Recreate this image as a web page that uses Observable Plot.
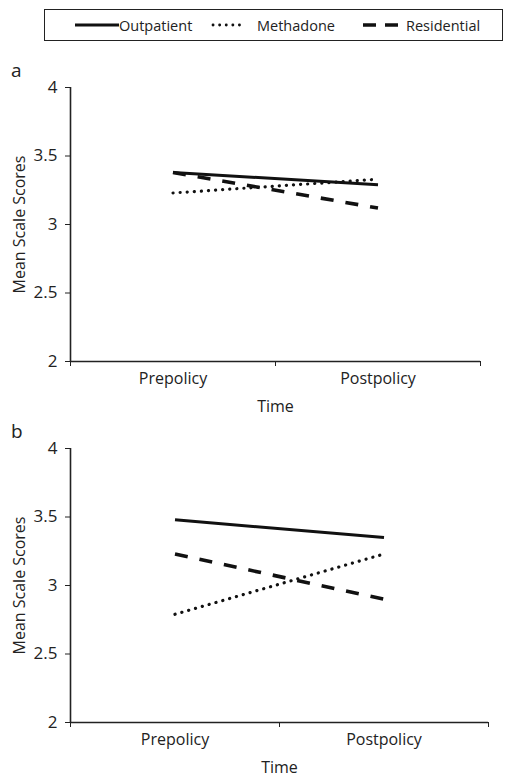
<!DOCTYPE html>
<html>
<head>
<meta charset="utf-8">
<script src="https://cdn.jsdelivr.net/npm/d3@7"></script>
<script src="https://cdn.jsdelivr.net/npm/@observablehq/plot@0.6"></script>
<style>
  html, body { margin: 0; padding: 0; background: #fff; }
  body { width: 514px; height: 783px; position: relative; overflow: hidden; font-family: "Open Sans", sans-serif; color: #222; }
  .abs { position: absolute; }
  #legend { left: 44px; top: 9px; width: 457px; height: 30px; border: 1.5px solid #222; }
  .leg-item { position: absolute; top: 0; height: 30px; display: flex; align-items: center; font-size: 14.5px; }
  .panel-label { font-size: 19px; left: 11px; }
</style>
</head>
<body>
<div id="legend" class="abs"></div>
<div id="pa" class="abs" style="left:0; top:50px"></div>
<div id="pb" class="abs" style="left:0; top:421px"></div>
<div class="abs panel-label" style="top:57px">a</div>
<div class="abs panel-label" style="top:418px">b</div>
<script>
const categories = ["Prepolicy", "Postpolicy"];
const series = ["Outpatient", "Methadone", "Residential"];
const yTicks = [2, 2.5, 3, 3.5, 4];

// Panel a values (Prepolicy, Postpolicy)
const outpatientA = [3.38, 3.29];
const methadoneA = [3.23, 3.33];
const residentialA = [3.38, 3.12];

// Panel b values (Prepolicy, Postpolicy)
const outpatientB = [3.48, 3.35];
const methadoneB = [2.79, 3.23];
const residentialB = [3.23, 2.90];

const styles = {
  Outpatient: {strokeWidth: 3, strokeDasharray: null, strokeLinecap: "butt"},
  Methadone: {strokeWidth: 3.2, strokeDasharray: "0.1,7", strokeLinecap: "round"},
  Residential: {strokeWidth: 3.6, strokeDasharray: "13,12", strokeLinecap: "butt"}
};

function panel(vals, {marginRight, marginTop}) {
  const rows = series.flatMap((s, i) => vals[i].map((v, j) => ({series: s, time: categories[j], pos: j + 0.5, value: v})));
  const plotH = 274, marginBottom = 60;
  return Plot.plot({
    width: 514,
    height: marginTop + plotH + marginBottom,
    marginLeft: 70,
    marginRight,
    marginTop,
    marginBottom,
    x: {domain: [0, categories.length], axis: null},
    y: {domain: [2, 4], axis: null},
    style: {fontFamily: "Open Sans", fontSize: "16px", color: "#222", background: "transparent"},
    marks: [
      Plot.axisY({ticks: yTicks, tickSize: 5, tickPadding: 8, tickFormat: d => String(d), label: null, fontSize: 17}),
      Plot.axisY({ticks: [], label: "Mean Scale Scores", labelArrow: "none", labelAnchor: "center", labelOffset: 57, fontSize: 16}),
      Plot.axisX({ticks: d3.range(categories.length + 1), tickSize: 5, tickFormat: () => "", label: null}),
      Plot.axisX({ticks: categories.map((c, i) => i + 0.5), tickSize: 0, tickPadding: 11, tickFormat: d => categories[Math.floor(d)], label: "Time", labelArrow: "none", labelAnchor: "center", labelOffset: 50, fontSize: 16}),
      Plot.ruleX([0], {stroke: "#222", strokeWidth: 1.6}),
      Plot.ruleY([2], {stroke: "#222", strokeWidth: 1.6}),
      ...series.map(s => Plot.line(rows.filter(r => r.series === s), {x: "pos", y: "value", stroke: "#111", ...styles[s]}))
    ]
  });
}

document.getElementById("pa").append(panel([outpatientA, methadoneA, residentialA], {marginRight: 34, marginTop: 37}));
document.getElementById("pb").append(panel([outpatientB, methadoneB, residentialB], {marginRight: 26, marginTop: 27}));

// Legend
const legendPos = [{line: 28, text: 74, w: 44}, {line: 166, text: 212, w: 33}, {line: 316, text: 361, w: 44}];
const legend = document.getElementById("legend");
series.forEach((s, i) => {
  const p = legendPos[i];
  const item = document.createElement("div");
  item.className = "leg-item";
  item.style.left = p.line + "px";
  const st = styles[s];
  const svg = d3.create("svg").attr("width", p.w + 4).attr("height", 10).style("margin-right", (p.text - p.line - p.w - 4) + "px");
  svg.append("line").attr("x1", 2).attr("x2", p.w + 2).attr("y1", 5).attr("y2", 5)
    .attr("stroke", "#111").attr("stroke-width", s === "Methadone" ? 2.8 : st.strokeWidth)
    .attr("stroke-dasharray", s === "Methadone" ? "0.1,6.5" : (s === "Residential" ? "13,9" : null))
    .attr("stroke-linecap", st.strokeLinecap);
  item.append(svg.node());
  const t = document.createElement("span");
  t.textContent = s;
  item.append(t);
  legend.append(item);
});
</script>
</body>
</html>
